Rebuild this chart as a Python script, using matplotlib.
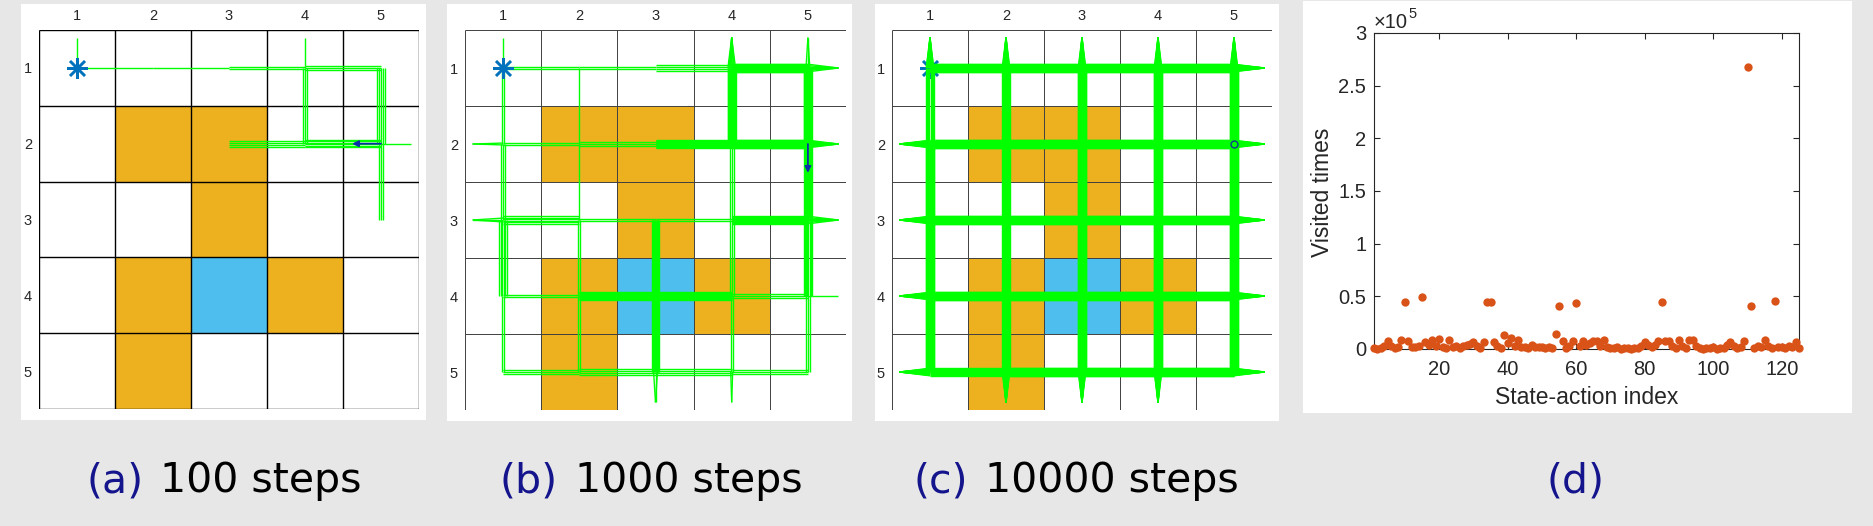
import matplotlib.pyplot as plt
import numpy as np
from matplotlib.collections import LineCollection
from matplotlib.offsetbox import AnnotationBbox, HPacker, TextArea
from matplotlib.patches import Rectangle
from matplotlib.ticker import FuncFormatter

W, H = 1873, 526

# grid world layout
n_rows, n_cols = 5, 5
forbidden_cells = [(2, 2), (2, 3), (3, 3), (4, 2), (4, 4), (5, 2)]
target_cell = (4, 3)
start_cell = (1, 1)
final_cell = (2, 5)
final_action = ["L", "D", "O"]  # arrow direction, "O" = stay (circle)

# trajectory moves: (row, col, direction, times)
# a move that leaves the grid is drawn as a spike that bounces back
moves_a = [
    (1, 1, "U", 1), (1, 1, "R", 1), (1, 2, "R", 1), (1, 3, "R", 2),
    (1, 4, "R", 3), (1, 4, "U", 1), (1, 4, "D", 3), (1, 5, "D", 5),
    (2, 5, "D", 3), (2, 3, "R", 4), (2, 4, "R", 6), (2, 5, "R", 1),
]
moves_b = [
    (1, 1, "U", 1), (1, 1, "R", 2), (1, 2, "R", 2), (1, 3, "R", 4),
    (1, 4, "R", 30), (1, 5, "R", 6), (1, 4, "U", 8), (1, 5, "U", 3),
    (1, 1, "D", 2), (2, 1, "D", 3), (3, 1, "D", 6), (4, 1, "D", 2),
    (2, 1, "L", 2), (3, 1, "L", 3),
    (1, 2, "D", 1), (2, 2, "D", 1), (3, 2, "D", 2), (4, 2, "D", 2),
    (3, 3, "D", 10), (4, 3, "D", 10), (5, 3, "D", 3),
    (1, 4, "D", 20), (2, 4, "D", 3), (3, 4, "D", 3), (4, 4, "D", 2), (5, 4, "D", 2),
    (1, 5, "D", 20), (2, 5, "D", 15), (3, 5, "D", 8), (4, 5, "D", 3),
    (2, 1, "R", 2), (2, 2, "R", 3), (2, 3, "R", 20), (2, 4, "R", 30), (2, 5, "R", 10),
    (3, 1, "R", 6), (3, 2, "R", 2), (3, 3, "R", 2), (3, 4, "R", 15), (3, 5, "R", 6),
    (4, 1, "R", 2), (4, 2, "R", 10), (4, 3, "R", 12), (4, 4, "R", 3), (4, 5, "R", 1),
    (5, 1, "R", 3), (5, 2, "R", 4), (5, 3, "R", 4), (5, 4, "R", 3),
]
moves_c = [
    (1, 1, "R", 60), (1, 2, "R", 80), (1, 3, "R", 80), (1, 4, "R", 80),
    (2, 1, "R", 90), (2, 2, "R", 90), (2, 3, "R", 90), (2, 4, "R", 90),
    (3, 1, "R", 90), (3, 2, "R", 90), (3, 3, "R", 90), (3, 4, "R", 90),
    (4, 1, "R", 80), (4, 2, "R", 80), (4, 3, "R", 80), (4, 4, "R", 80),
    (5, 1, "R", 12), (5, 2, "R", 80), (5, 3, "R", 80), (5, 4, "R", 80),
    (1, 1, "D", 8), (2, 1, "D", 70), (3, 1, "D", 70), (4, 1, "D", 70),
    (1, 2, "D", 20), (2, 2, "D", 20), (3, 2, "D", 20), (4, 2, "D", 20),
    (1, 3, "D", 70), (2, 3, "D", 70), (3, 3, "D", 70), (4, 3, "D", 70),
    (1, 4, "D", 70), (2, 4, "D", 70), (3, 4, "D", 70), (4, 4, "D", 70),
    (1, 5, "D", 70), (2, 5, "D", 70), (3, 5, "D", 70), (4, 5, "D", 70),
    (1, 1, "U", 20), (1, 2, "U", 20), (1, 3, "U", 20), (1, 4, "U", 20), (1, 5, "U", 20),
    (5, 2, "D", 20), (5, 3, "D", 20), (5, 4, "D", 20),
    (2, 1, "L", 20), (3, 1, "L", 20), (4, 1, "L", 20), (5, 1, "L", 20),
    (1, 5, "R", 20), (2, 5, "R", 20), (3, 5, "R", 20), (4, 5, "R", 20), (5, 5, "R", 20),
]
all_moves = [moves_a, moves_b, moves_c]

# panel (d): visit count of every state-action pair
sa_index = np.arange(1, 126)
visits = [
    500, 300, 800, 2500, 8000, 3000, 1000, 2000, 8500, 45000,
    8000, 2000, 1500, 3000, 49000, 7000, 3500, 8500, 3000, 9500,
    2000, 1000, 8500, 1500, 2500, 1000, 3000, 4000, 5000, 7000,
    3000, 1000, 7000, 45000, 45000, 7000, 3000, 1000, 13000, 6000,
    10000, 3000, 8500, 2000, 1500, 1000, 4000, 2000, 1500, 2000,
    1000, 1500, 800, 14000, 41000, 8000, 1000, 3000, 8000, 44000,
    3000, 8000, 4000, 6000, 8000, 8000, 3000, 8500, 2000, 1000,
    500, 1500, 300, 1000, 800, 300, 500, 1000, 3000, 7000,
    4000, 1500, 3500, 8000, 45000, 7500, 8000, 3000, 1000, 8500,
    2500, 1000, 8500, 9000, 2500, 500, 300, 1000, 500, 1500,
    300, 800, 1000, 3500, 7000, 2500, 500, 1500, 8000, 268000,
    41000, 1000, 2500, 1500, 9000, 3000, 1000, 46000, 2000, 1500,
    800, 2500, 1500, 7000, 500,
]

captions = ["(a)", "(b)", "(c)", "(d)"]
caption_text = ["100 steps", "1000 steps", "10000 steps", ""]

DIRS = {"U": (-1, 0), "D": (1, 0), "L": (0, -1), "R": (0, 1)}
ORANGE = "#EDB120"
CYAN = "#4DBEEE"
GREEN = "#00FF00"
NAVY = "#14148C"


def px_box(x0, y0, x1, y1):
    return [x0 / W, 1 - y1 / H, (x1 - x0) / W, (y1 - y0) / H]


def draw_moves(ax, moves):
    segs = []
    for row, col, d, count in moves:
        dr, dc = DIRS[d]
        r2, c2 = row + dr, col + dc
        inside = 1 <= r2 <= n_rows and 1 <= c2 <= n_cols
        n = min(count, 30)
        half = 0.05 * min(1.0, (n - 1) / 4)
        offs = np.linspace(-half, half, n) if n > 1 else [0.0]
        for o in offs:
            ox, oy = (o, 0.0) if dr else (0.0, o)
            if inside:
                segs.append([(col + ox, row + oy), (c2 + ox, r2 + oy)])
            else:
                segs.append([(col + ox, row + oy), (col + 0.4 * dc, row + 0.4 * dr)])
    ax.add_collection(LineCollection(segs, colors=GREEN, linewidths=1.0, zorder=3))


fig = plt.figure(figsize=(W / 100, H / 100), dpi=100, facecolor="#E7E7E7")

# white backgrounds of the four sub-figures
for x0, y0, x1, y1 in [(21, 4, 426, 420), (447, 4, 852, 421), (875, 4, 1279, 421), (1303, 1, 1852, 413)]:
    fig.add_artist(Rectangle((x0 / W, 1 - y1 / H), (x1 - x0) / W, (y1 - y0) / H,
                             transform=fig.transFigure, facecolor="white", edgecolor="none", zorder=0))

grid_boxes = [(39, 30, 419, 409), (465, 30, 846, 410), (892, 30, 1272, 410)]
grid_color = ["black", "#404040", "#404040"]
grid_lw = [1.0, 0.7, 0.7]
star_on_top = [True, True, False]

for i, moves in enumerate(all_moves):
    ax = fig.add_axes(px_box(*grid_boxes[i]))
    ax.set_xlim(0.5, n_cols + 0.5)
    ax.set_ylim(n_rows + 0.5, 0.5)
    for r, c in forbidden_cells:
        ax.add_patch(Rectangle((c - 0.5, r - 0.5), 1, 1, facecolor=ORANGE, edgecolor="none", zorder=1))
    ax.add_patch(Rectangle((target_cell[1] - 0.5, target_cell[0] - 0.5), 1, 1,
                           facecolor=CYAN, edgecolor="none", zorder=1))
    lines = np.arange(0.5, n_cols + 1.0, 1.0)
    ax.vlines(lines, 0.5, n_rows + 0.5, colors=grid_color[i], linewidth=grid_lw[i], zorder=2)
    ax.hlines(lines, 0.5, n_cols + 0.5, colors=grid_color[i], linewidth=grid_lw[i], zorder=2)

    draw_moves(ax, moves)

    ax.plot(start_cell[1], start_cell[0], marker=(8, 2, 0), markersize=15, mew=1.8,
            color="#0072BD", zorder=5 if star_on_top[i] else 2.5)

    fr, fc = final_cell
    if final_action[i] == "O":
        ax.plot(fc, fr, "o", markersize=5, mfc="none", mec="#0B3D91", mew=1.0, zorder=5)
    else:
        dr, dc = DIRS[final_action[i]]
        ax.annotate("", xy=(fc + 0.38 * dc, fr + 0.38 * dr), xytext=(fc, fr),
                    arrowprops=dict(arrowstyle="-|>", color="#0B2FA8", lw=1.3,
                                    mutation_scale=9, shrinkA=0, shrinkB=0), zorder=5)

    ax.set_xticks(range(1, n_cols + 1))
    ax.set_yticks(range(1, n_rows + 1))
    ax.xaxis.tick_top()
    ax.tick_params(length=0, labelsize=10.5, labelcolor="#262626", pad=5)
    for lab in ax.get_xticklabels() + ax.get_yticklabels():
        lab.set_family("Liberation Sans")
    for s in ax.spines.values():
        s.set_visible(False)

# panel (d)
axd = fig.add_axes(px_box(1374, 33, 1799, 349))
axd.scatter(sa_index, visits, s=36, color="#D95319", linewidths=0, zorder=3, clip_on=False)
axd.set_xlim(1, 125)
axd.set_ylim(0, 3e5)
axd.set_xticks([20, 40, 60, 80, 100, 120])
axd.set_yticks(np.arange(0, 3.01e5, 0.5e5))
axd.yaxis.set_major_formatter(FuncFormatter(lambda v, p: f"{v / 1e5:g}"))
axd.tick_params(direction="in", top=True, right=True, length=4, width=0.8,
                labelsize=14.5, colors="#262626")
axd.tick_params(axis="x", pad=8)
axd.tick_params(axis="y", pad=5.5)
for s in axd.spines.values():
    s.set_color("#262626")
    s.set_linewidth(0.8)
for lab in axd.get_xticklabels() + axd.get_yticklabels():
    lab.set_family("Liberation Sans")
axd.set_xlabel("State-action index", fontsize=16.5, family="Liberation Sans", color="#262626")
axd.set_ylabel("Visited times", fontsize=16.5, family="Liberation Sans", color="#262626")
axd.xaxis.set_label_coords(0.5, -0.155)
axd.xaxis.label.set_va("center")
axd.yaxis.set_label_coords(-0.122, 0.497)
axd.yaxis.label.set_va("center")
t1 = axd.text(0.0, 1.016, "×10", transform=axd.transAxes, fontsize=14.5,
              family="Liberation Sans", color="#262626", va="baseline", ha="left")
axd.annotate("5", xy=(1.0, 0.55), xycoords=t1, fontsize=10.5, family="Liberation Sans",
             color="#262626", va="bottom", ha="left")

# captions
cap_x = [224, 651, 1076, 1576]
for i in range(4):
    parts = [TextArea(captions[i], textprops=dict(color=NAVY, fontsize=29.5, family="DejaVu Sans"))]
    if caption_text[i]:
        parts.append(TextArea(caption_text[i], textprops=dict(color="black", fontsize=29.5,
                                                              family="DejaVu Sans")))
    box = HPacker(children=parts, align="baseline", pad=0, sep=12)
    fig.add_artist(AnnotationBbox(box, (cap_x[i] / W, 1 - 481 / H), xycoords="figure fraction",
                                  box_alignment=(0.5, 0.5), frameon=False))

fig.savefig("out.png", dpi=100, facecolor=fig.get_facecolor())
